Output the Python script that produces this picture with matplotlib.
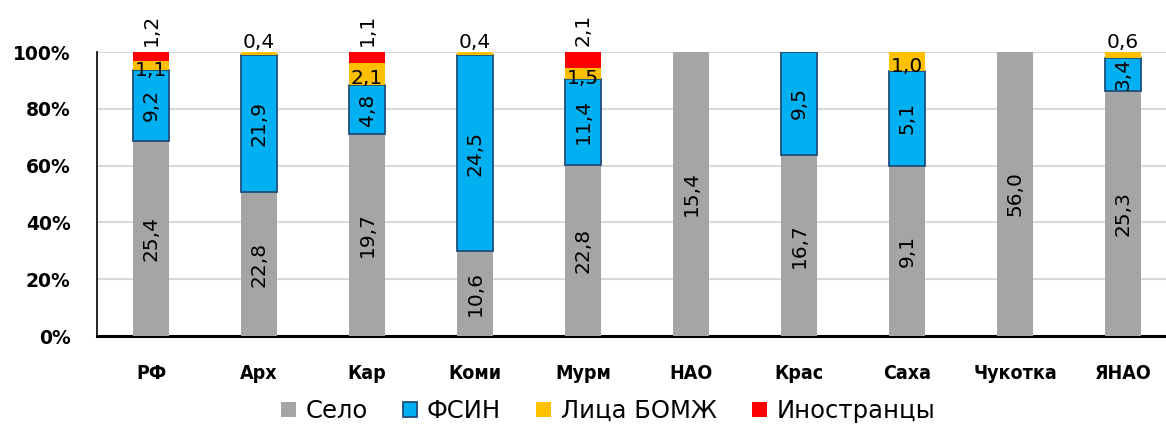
import matplotlib
matplotlib.use("Agg")
import matplotlib.pyplot as plt
import numpy as np

regions = ["РФ", "Арх", "Кар", "Коми", "Мурм", "НАО", "Крас", "Саха", "Чукотка", "ЯНАО"]
selo = [25.4, 22.8, 19.7, 10.6, 22.8, 15.4, 16.7, 9.1, 56.0, 25.3]
fsin = [9.2, 21.9, 4.8, 24.5, 11.4, 0.0, 9.5, 5.1, 0.0, 3.4]
bomzh = [1.1, 0.4, 2.1, 0.4, 1.5, 0.0, 0.0, 1.0, 0.0, 0.6]
foreign = [1.2, 0.0, 1.1, 0.0, 2.1, 0.0, 0.0, 0.0, 0.0, 0.0]
series_names = ["Село", "ФСИН", "Лица БОМЖ", "Иностранцы"]
yticks = [0, 20, 40, 60, 80, 100]

plt.rcParams["font.family"] = ["DejaVu Sans"]

fig = plt.figure(figsize=(11.66, 4.28), dpi=100)
ax = fig.add_axes([97 / 1166, 1 - 336 / 428, 1080 / 1166, 284 / 428])

data = np.array([selo, fsin, bomzh, foreign])
totals = data.sum(axis=0)
pct = data / totals * 100
x = np.arange(len(regions))
width = 0.333

colors = ["#A5A5A5", "#00B0F0", "#FFC000", "#FF0000"]
edges = ["none", "#1F4E79", "none", "none"]
lws = [0, 1.3, 0, 0]
vsize = 14.5

bottom = np.zeros(len(regions))
for k in range(4):
    nz = data[k] > 0
    ax.bar(x[nz], pct[k][nz], width, bottom=bottom[nz], color=colors[k],
           edgecolor=edges[k], linewidth=lws[k], label=series_names[k], zorder=3)
    for i in range(len(regions)):
        v = data[k, i]
        if v <= 0:
            continue
        txt = f"{v:.1f}".replace(".", ",")
        h = pct[k, i]
        mid = bottom[i] + h / 2
        if k in (0, 1):
            ax.text(x[i], mid, txt, rotation=90, ha="center", va="center",
                    fontsize=vsize, color="black", zorder=5)
        elif k == 2:
            if h >= 2.5:
                ax.annotate(txt, (x[i], mid), xytext=(0, -3.5),
                            textcoords="offset points", ha="center", va="center",
                            fontsize=vsize, color="black", zorder=5)
            else:
                ax.annotate(txt, (x[i], bottom[i] + h), xytext=(0, 0),
                            textcoords="offset points", ha="center", va="bottom",
                            fontsize=vsize, color="black", zorder=5,
                            annotation_clip=False)
        else:
            ax.annotate(txt, (x[i], bottom[i] + h), xytext=(0, 4),
                        textcoords="offset points", ha="center", va="bottom",
                        rotation=90, fontsize=vsize, color="black", zorder=5,
                        annotation_clip=False)
    bottom += pct[k]

ax.set_xlim(-0.5, len(regions) - 0.5)
ax.set_ylim(0, 100)
ax.set_yticks(yticks)
ax.set_yticklabels([f"{t}%" for t in yticks], fontsize=13.5, fontweight="bold")
ax.set_xticks(x)
ax.set_xticklabels(regions, fontsize=14, fontweight="bold", fontstretch="condensed")
ax.tick_params(axis="x", length=0, pad=20)
ax.tick_params(axis="y", length=0, pad=19)
ax.grid(axis="y", color="#D9D9D9", linewidth=1.5, zorder=0)
ax.set_axisbelow(True)
for s in ["top", "right"]:
    ax.spines[s].set_visible(False)
ax.spines["left"].set_linewidth(1.2)
ax.spines["bottom"].set_linewidth(2.2)

handles, labels = ax.get_legend_handles_labels()
fig.legend(handles, labels, loc="center", bbox_to_anchor=(608 / 1166, 1 - 411 / 428),
           ncol=4, frameon=False, fontsize=17.5, handlelength=0.6, handleheight=0.6,
           handletextpad=0.4, columnspacing=1.45)

fig.savefig("out.png", dpi=100)
